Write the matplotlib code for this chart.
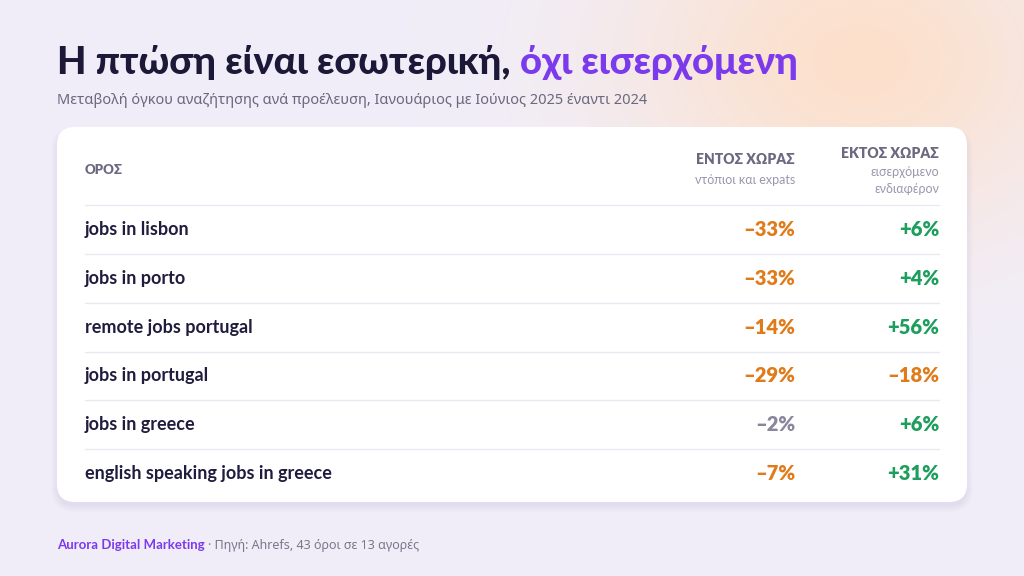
import matplotlib
matplotlib.use("Agg")
import matplotlib.pyplot as plt
import numpy as np
from matplotlib.patches import FancyBboxPatch

terms = ["jobs in lisbon", "jobs in porto", "remote jobs portugal", "jobs in portugal",
         "jobs in greece", "english speaking jobs in greece"]
domestic = [-33, -33, -14, -29, -2, -7]
foreign = [6, 4, 56, -18, 6, 31]

FAM = ['Lato', 'Noto Sans', 'DejaVu Sans']
plt.rcParams['font.family'] = FAM

W, H = 1024, 576
fig = plt.figure(figsize=(W/100, H/100), dpi=100)
ax = fig.add_axes([0, 0, 1, 1])
ax.set_xlim(0, W); ax.set_ylim(H, 0); ax.axis('off')

yy, xx = np.mgrid[0:H, 0:W]
base = np.array([0.945, 0.933, 0.976])
glow = np.array([0.99, 0.88, 0.80])
d = np.exp(-(((xx-860)/230.0)**2 + ((yy-60)/170.0)**2))
img = base[None, None, :]*(1-d[..., None]) + glow[None, None, :]*d[..., None]
ax.imshow(img, extent=[0, W, H, 0], zorder=0, aspect='auto')

t1 = ax.text(57, 62, "Η πτώση είναι εσωτερική, ", fontsize=27.5, fontweight='black',
             color='#1b1838', va='center')
fig.canvas.draw()
bb = t1.get_window_extent()
ax.text(bb.x1, 62, "όχι εισερχόμενη", fontsize=27.5, fontweight='black',
        color='#7c3aed', va='center')
ax.text(57, 100, "Μεταβολή όγκου αναζήτησης ανά προέλευση, Ιανουάριος με Ιούνιος 2025 έναντι 2024",
        fontsize=10.5, color='#6b6880', va='center', family=['Noto Sans'])

for k, a in enumerate([0.10, 0.08, 0.06, 0.04]):
    ax.add_patch(FancyBboxPatch((57-k*2, 131-k), 910+k*4, 375+k*3,
                                boxstyle="round,pad=0,rounding_size=%d" % (18+k*2),
                                fc='#b8aed6', ec='none', alpha=a, zorder=1))
ax.add_patch(FancyBboxPatch((57, 127), 910, 375, boxstyle="round,pad=0,rounding_size=18",
                            fc='white', ec='none', zorder=2))

hdr = '#6b6880'
ax.text(85, 170, "ΟΡΟΣ", fontsize=9.5, fontweight='heavy', color=hdr, va='center', zorder=3)
ax.text(795, 160, "ΕΝΤΟΣ ΧΩΡΑΣ", fontsize=10, fontweight='heavy', color=hdr, va='center', ha='right', zorder=3)
ax.text(795, 180, "ντόπιοι και expats", fontsize=9, color='#9a97ad', va='center', ha='right', zorder=3)
ax.text(939, 153, "ΕΚΤΟΣ ΧΩΡΑΣ", fontsize=10, fontweight='heavy', color=hdr, va='center', ha='right', zorder=3)
ax.text(939, 172, "εισερχόμενο", fontsize=9, color='#9a97ad', va='center', ha='right', zorder=3)
ax.text(939, 189, "ενδιαφέρον", fontsize=9, color='#9a97ad', va='center', ha='right', zorder=3)

def col(v):
    if v > 0:
        return '#1e9e5c'
    if abs(v) < 5:
        return '#8a879c'
    return '#e07b1a'

def fmt(v):
    return ("+%d%%" % v) if v > 0 else ("\u2013%d%%" % abs(v))

y0, step = 230, 48.6
ax.plot([85, 939], [205, 205], color='#ebe8f2', lw=1, zorder=3)
for i, (t, a, b) in enumerate(zip(terms, domestic, foreign)):
    y = y0 + i*step
    ax.text(85, y, t, fontsize=13, fontweight='bold', color='#1f1c3d', va='center', zorder=3)
    ax.text(795, y, fmt(a), fontsize=14.5, fontweight='heavy', color=col(a), va='center', ha='right', zorder=3)
    ax.text(939, y, fmt(b), fontsize=14.5, fontweight='heavy', color=col(b), va='center', ha='right', zorder=3)
    if i < len(terms)-1:
        ax.plot([85, 939], [y+24.3, y+24.3], color='#ebe8f2', lw=1, zorder=3)

t3 = ax.text(57, 545, "Aurora Digital Marketing", fontsize=9.5, fontweight='bold',
             color='#7c3aed', va='center')
fig.canvas.draw()
bb = t3.get_window_extent()
ax.text(bb.x1 + 3, 545, "· Πηγή: Ahrefs, 43 όροι σε 13 αγορές", fontsize=9,
        color='#7a778c', va='center', family=['Noto Sans'])

fig.savefig("out.png", dpi=100)
